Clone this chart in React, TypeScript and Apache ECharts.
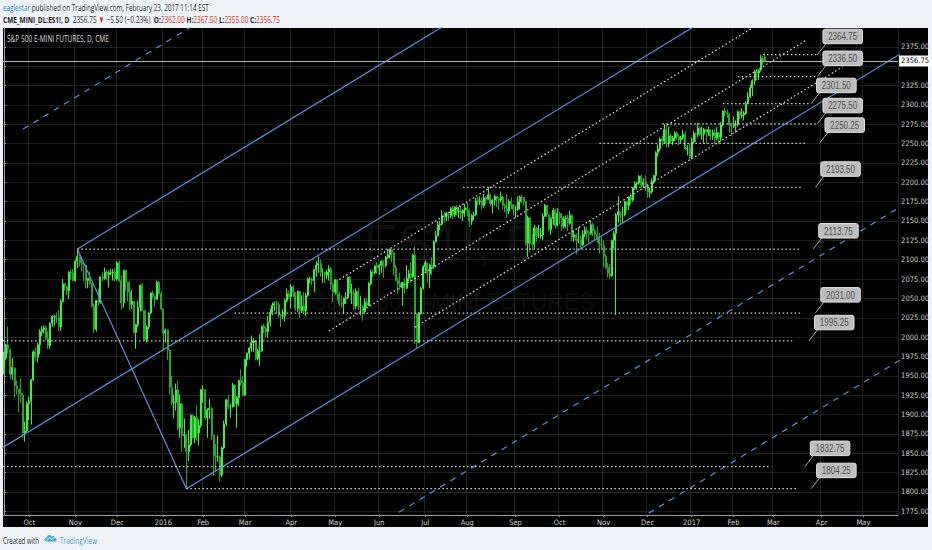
import React, { useEffect, useRef } from "react";
import * as echarts from "echarts";

const START_DATE = "2015-09-15";
const CATEGORY_COUNT = 427;
const HOLIDAYS = ["2015-11-26","2015-12-25","2016-01-01","2016-01-18","2016-02-15","2016-03-25","2016-05-30","2016-07-04","2016-09-05","2016-11-24","2016-12-26","2017-01-02","2017-01-16","2017-02-20"];
const MONTHS = ["Jan","Feb","Mar","Apr","May","Jun","Jul","Aug","Sep","Oct","Nov","Dec"];

// daily bars: [open, high, low, close]
const ohlc: number[][] = [
// 2015-09
[1955,1981,1952,1973],[1973,1991,1970,1990],[1990,2014,1979,1985],[1984,1985,1946,1952],[1952,1973,1945,1961],[1960,1961,1922,1937],[1937,1944,1926,1933],[1933,1933,1903,1927],[1927,1947,1915,1925],[1925,1928,1870,1876],[1876,1891,1865,1879],[1879,1917,1877,1914],
// 2015-10
[1914,1923,1893,1917],[1917,1946,1887,1945],[1945,1983,1943,1981],[1981,1987,1969,1974],[1974,1993,1967,1990],[1990,2010,1978,2007],[2007,2014,2001,2010],[2010,2015,2005,2012],[2012,2015,1996,1998],[1998,2007,1985,1989],[1989,2019,1985,2018],[2018,2028,2013,2027],[2027,2029,2015,2027],[2027,2032,2018,2025],[2025,2035,2008,2013],[2013,2049,2008,2046],[2046,2075,2045,2069],[2069,2070,2060,2065],[2065,2066,2054,2060],[2060,2085,2049,2084],[2084,2087,2074,2083],[2083,2088,2072,2073],
// 2015-11
[2073,2100,2072,2098],[2098,2113.75,2089,2104],[2104,2108,2091,2096],[2096,2102,2085,2094],[2094,2097,2072,2093],[2093,2093,2063,2073],[2073,2076,2063,2076],[2076,2085,2067,2069],[2069,2070,2038,2040],[2040,2043,2005,2010],[2010,2048,2007,2047],[2047,2063,2041,2045],[2045,2078,2043,2078],[2078,2084,2072,2076],[2076,2090,2074,2084],[2084,2087,2073,2081],[2081,2086,2064,2083],[2083,2088,2080,2083],[2083,2088,2073,2084],[2084,2089,2072,2075],
// 2015-12
[2075,2098,2073,2096],[2096,2099,2071,2073],[2073,2080,2036,2044],[2044,2087,2038,2086],[2086,2087,2060,2071],[2071,2071,2046,2058],[2058,2072,2035,2042],[2042,2061,2036,2046],[2046,2046,2005,2006],[2006,2017,1985,2016],[2016,2047,2013,2038],[2038,2068,2033,2067],[2067,2070,2034,2034],[2034,2035,1995,1997],[1997,2015,1993,2013],[2013,2032,2010,2031],[2031,2058,2030,2057],[2057,2060,2050,2053],[2053,2053,2040,2049],[2049,2073,2048,2071],[2071,2072,2055,2056],[2056,2059,2035,2036],
// 2016-01
[2036,2037,1983,2005],[2005,2011,1993,2009],[2009,2010,1970,1983],[1983,1984,1926,1935],[1935,1950,1912,1915],[1915,1925,1895,1916],[1916,1940,1905,1932],[1932,1944,1880,1883],[1883,1926,1870,1914],[1914,1915,1852,1873],[1873,1895,1857,1874],[1874,1875,1804.25,1852],[1852,1880,1840,1861],[1861,1900,1859,1899],[1899,1900,1869,1870],[1870,1898,1863,1896],[1896,1912,1866,1876],[1876,1894,1860,1886],[1886,1933,1883,1932],
// 2016-02
[1932,1938,1915,1932],[1932,1932,1893,1896],[1896,1908,1870,1906],[1906,1920,1894,1908],[1908,1910,1867,1873],[1873,1874,1821,1846],[1846,1862,1826,1845],[1845,1873,1839,1845],[1845,1847,1814,1822],[1822,1859,1819,1857],[1857,1892,1855,1888],[1888,1920,1885,1919],[1919,1926,1907,1910],[1910,1914,1896,1910],[1910,1941,1909,1938],[1938,1939,1910,1914],[1914,1924,1883,1922],[1922,1945,1911,1944],[1944,1958,1937,1941],[1941,1950,1923,1925],
// 2016-03
[1925,1972,1924,1971],[1971,1980,1962,1979],[1979,1987,1971,1986],[1986,2002,1981,1993],[1993,1999,1981,1995],[1995,1996,1970,1972],[1972,1985,1970,1982],[1982,2004,1963,1982],[1982,2015,1981,2014],[2014,2017,2005,2011],[2011,2014,2000,2007],[2007,2027,1999,2019],[2019,2037,2014,2032],[2032,2045,2028,2041],[2041,2046,2034,2043],[2043,2047,2030,2042],[2042,2045,2025,2028],[2028,2030,2013,2027],[2027,2036,2023,2028],[2028,2050,2020,2047],[2047,2063,2045,2056],[2056,2060,2049,2052],
// 2016-04
[2052,2068,2037,2065],[2065,2067,2052,2058],[2058,2058,2034,2037],[2037,2060,2032,2059],[2059,2059,2025,2034],[2034,2054,2031,2040],[2040,2058,2032,2034],[2034,2057,2027,2054],[2054,2077,2052,2075],[2075,2078,2069,2075],[2075,2077,2067,2073],[2073,2088,2058,2087],[2087,2098,2078,2093],[2093,2104,2083,2095],[2095,2100,2078,2084],[2084,2089,2070,2084],[2084,2084,2070,2080],[2080,2087,2075,2084],[2084,2093,2073,2088],[2088,2091,2061,2068],[2068,2070,2045,2058],
// 2016-05
[2058,2075,2055,2074],[2074,2074,2047,2056],[2056,2059,2040,2044],[2044,2054,2038,2043],[2043,2051,2030,2050],[2050,2058,2043,2051],[2051,2078,2049,2077],[2077,2079,2056,2057],[2057,2069,2043,2057],[2057,2061,2035,2040],[2040,2063,2036,2059],[2059,2064,2035,2040],[2040,2053,2028,2040],[2040,2042,2021,2033],[2033,2050,2030,2045],[2045,2051,2038,2041],[2041,2071,2040,2069],[2069,2087,2067,2084],[2084,2087,2078,2083],[2083,2093,2081,2092],[2092,2097,2082,2090],
// 2016-06
[2090,2094,2080,2093],[2093,2099,2083,2098],[2098,2099,2077,2092],[2092,2105,2090,2103],[2103,2113,2101,2106],[2106,2114,2102,2113],[2113,2113,2097,2109],[2109,2109,2080,2090],[2090,2093,2072,2073],[2073,2077,2056,2069],[2069,2083,2061,2065],[2065,2071,2040,2071],[2071,2076,2056,2063],[2063,2093,2062,2076],[2076,2087,2072,2082],[2082,2097,2070,2078],[2078,2108,2076,2106],[2106,2117,1991,2030],[2030,2031,1985,1993],[1993,2032,1992,2030],[2030,2065,2029,2063],[2063,2093,2061,2091],
// 2016-07
[2091,2099,2085,2096],[2096,2096,2070,2082],[2082,2095,2063,2093],[2093,2103,2080,2091],[2091,2125,2088,2123],[2123,2137,2122,2131],[2131,2150,2130,2145],[2145,2150,2138,2146],[2146,2164,2144,2157],[2157,2162,2148,2155],[2155,2162,2150,2160],[2160,2162,2150,2157],[2157,2168,2154,2166],[2166,2170,2152,2158],[2158,2169,2155,2168],[2168,2170,2157,2162],[2162,2168,2154,2163],[2163,2170,2152,2160],[2160,2165,2150,2164],[2164,2172,2155,2167],
// 2016-08
[2167,2174,2156,2164],[2164,2166,2142,2150],[2150,2159,2145,2157],[2157,2162,2151,2158],[2158,2180,2157,2176],[2176,2181,2170,2175],[2175,2182,2171,2176],[2176,2180,2165,2170],[2170,2185,2167,2180],[2180,2182,2172,2178],[2178,2193.5,2177,2184],[2184,2185,2169,2172],[2172,2178,2160,2177],[2177,2184,2170,2182],[2182,2182,2168,2178],[2178,2181,2164,2177],[2177,2188,2174,2181],[2181,2183,2165,2170],[2170,2173,2161,2167],[2167,2185,2154,2163],[2163,2178,2159,2175],[2175,2180,2165,2171],[2171,2172,2157,2165],
// 2016-09
[2165,2170,2154,2165],[2165,2182,2163,2175],[2175,2183,2165,2181],[2181,2184,2173,2180],[2180,2181,2170,2175],[2175,2175,2118,2121],[2121,2157,2104,2154],[2154,2155,2110,2121],[2121,2133,2112,2120],[2120,2145,2114,2141],[2141,2142,2123,2131],[2131,2145,2128,2131],[2131,2141,2127,2132],[2132,2160,2125,2156],[2156,2172,2155,2170],[2170,2171,2155,2158],[2158,2158,2137,2139],[2139,2155,2132,2153],[2153,2167,2145,2164],[2164,2166,2140,2144],[2144,2167,2143,2160],
// 2016-10
[2160,2162,2146,2154],[2154,2160,2137,2143],[2143,2156,2140,2153],[2153,2157,2141,2154],[2154,2158,2137,2147],[2147,2163,2145,2157],[2157,2159,2124,2129],[2129,2138,2123,2132],[2132,2134,2107,2125],[2125,2142,2121,2126],[2126,2131,2115,2119],[2119,2138,2118,2133],[2133,2143,2129,2138],[2138,2143,2126,2135],[2135,2137,2122,2134],[2134,2150,2132,2145],[2145,2148,2130,2137],[2137,2140,2124,2133],[2133,2143,2122,2127],[2127,2135,2108,2120],[2120,2130,2114,2119],
// 2016-11
[2119,2125,2090,2104],[2104,2107,2088,2090],[2090,2096,2077,2082],[2082,2094,2075,2079],[2079,2126,2078,2125],[2125,2137,2115,2134],[2134,2160,2028.75,2158],[2158,2182,2148,2162],[2162,2162,2146,2158],[2158,2168,2148,2158],[2158,2176,2156,2175],[2175,2175,2163,2170],[2170,2182,2164,2181],[2181,2186,2172,2177],[2177,2193,2175,2193],[2193,2201,2190,2198],[2198,2201,2190,2199],[2199,2209,2197,2208],[2208,2210,2193,2196],[2196,2205,2193,2200],[2200,2209,2189,2194],
// 2016-12
[2194,2198,2180,2187],[2187,2193,2180,2188],[2188,2205,2185,2201],[2201,2210,2198,2209],[2209,2240,2202,2238],[2238,2249,2233,2243],[2243,2258,2240,2256],[2256,2260,2248,2253],[2253,2275,2250,2268],[2268,2274,2245,2250],[2250,2272,2245,2260],[2260,2263,2250,2253],[2253,2260,2248,2257],[2257,2266,2253,2264],[2264,2265,2255,2259],[2259,2262,2248,2255],[2255,2260,2251,2257],[2257,2268,2255,2262],[2262,2266,2241,2243],[2243,2248,2235,2244],[2244,2250,2228,2233],
// 2017-01
[2233,2258,2230,2252],[2252,2266,2250,2263],[2263,2264,2252,2262],[2262,2277,2258,2270],[2270,2272,2260,2262],[2262,2272,2255,2262],[2262,2270,2250,2268],[2268,2269,2250,2265],[2265,2272,2260,2268],[2268,2268,2254,2260],[2260,2268,2255,2264],[2264,2269,2250,2257],[2257,2271,2254,2264],[2264,2265,2249,2258],[2258,2278,2253,2274],[2274,2293,2272,2292],[2292,2296,2285,2290],[2290,2294,2283,2288],[2288,2289,2264,2274],[2274,2276,2260,2273],
// 2017-02
[2273,2285,2270,2274],[2274,2280,2264,2275],[2275,2293,2272,2291],[2291,2292,2281,2286],[2286,2296,2283,2287],[2287,2292,2280,2289],[2289,2305,2287,2302],[2302,2316,2301,2310],[2310,2326,2309,2322],[2322,2333,2311,2331],[2331,2345,2326,2343],[2343,2347,2332,2341],[2341,2346,2332,2345],[2345,2364.75,2343,2360],[2360,2363,2352,2357],[2362,2367.5,2355,2356.75],
];

const LAST_PRICE = 2356.75;
const Y_MIN = 1770.25;
const Y_MAX = 2399.25;
const yTicks = [1775,1800,1825,1850,1875,1900,1925,1950,1975,2000,2025,2050,2075,2100,2125,2150,2175,2200,2225,2250,2275,2300,2325,2350,2375];
// 2350.00 sits under the last-price tag, as in the source
const yLabels = yTicks.filter((v) => v !== 2350);

// horizontal support / resistance levels (x in bar index)
const levelPrices = [2364.75, 2336.5, 2301.5, 2275.5, 2250.25, 2193.5, 2113.75, 2031, 1995.25, 1832.75, 1804.25];
const levelFrom = [362, 350, 343, 314, 284, 219, 35, 110, -0.5, -0.5, 87];
const levelTo = [388, 388, 385, 388, 382, 381, 380, 380, 376, 366, 378];
const calloutAt = [388, 388, 385, 388, 389, 387, 386, 387, 384, 382, 385];

// pitchfork anchors [bar index, price]
const forkStart = [-0.5, 1857.6];
const forkHigh = [35, 2113.75];
const forkLow = [87, 1804.25];
// dotted parallel lines: offset from median, from/to bar index
const channelOffsets = [-47.8, -105.9, -168.8];
const channelFrom = [160, 155, 196];
const channelTo = [520, 383, 400];

const NARROW = "'Liberation Sans Narrow', 'DejaVu Sans Condensed', 'Arial Narrow', sans-serif";

function buildDates(): string[] {
  const out: string[] = [];
  const d = new Date(START_DATE + "T00:00:00Z");
  while (out.length < CATEGORY_COUNT) {
    const wd = d.getUTCDay();
    const s = d.toISOString().slice(0, 10);
    if (wd !== 0 && wd !== 6 && HOLIDAYS.indexOf(s) < 0) out.push(s);
    d.setUTCDate(d.getUTCDate() + 1);
  }
  return out;
}

const measureCtx = document.createElement("canvas").getContext("2d") as CanvasRenderingContext2D;
function textWidth(t: string, size: number, family: string, weight = "normal") {
  measureCtx.font = `${weight} ${size}px ${family}`;
  return measureCtx.measureText(t).width;
}
type Seg = { t: string; c: string; b?: boolean };
function lineEls(segs: Seg[], x: number, y: number, size: number, family: string, target: number) {
  const widths = segs.map((s) => textWidth(s.t, size, family, s.b ? "bold" : "normal"));
  const total = widths.reduce((a, b) => a + b, 0);
  const k = target / total;
  let cx = x;
  return segs.map((s, i) => {
    const el = {
      type: "text", x: cx, y, scaleX: k, silent: true, z: 20,
      style: { text: s.t, fill: s.c, fontSize: size, fontFamily: family, fontWeight: s.b ? "bold" : "normal", verticalAlign: "middle" },
    };
    cx += widths[i] * k;
    return el;
  });
}

echarts.graphic.registerShape(
  "tvlogo",
  echarts.graphic.extendPath("M3 10 C0 10 0 6 3 6 C3 2 8 1 9 4 C10 3 13 3 13 6 C15.5 6 15.5 10 13 10 Z", {}) as any
);

export default function App() {
  const ref = useRef<HTMLDivElement>(null);
  useEffect(() => {
    if (!ref.current) return;
    const chart = echarts.init(ref.current, undefined, { renderer: "svg" });
    const dates = buildDates();
    const isMonthStart = (i: number) => i > 0 && dates[i].slice(5, 7) !== dates[i - 1].slice(5, 7);
    const monthLabel = (v: string) => {
      const m = parseInt(v.slice(5, 7), 10);
      return m === 1 ? v.slice(0, 4) : MONTHS[m - 1];
    };

    const slope = ((forkHigh[1] + forkLow[1]) / 2 - forkStart[1]) / ((forkHigh[0] + forkLow[0]) / 2 - forkStart[0]);
    const median = (i: number) => forkStart[1] + (i - forkStart[0]) * slope;
    const upper = (i: number) => forkHigh[1] + (i - forkHigh[0]) * slope;
    const lower = (i: number) => forkLow[1] + (i - forkLow[0]) * slope;
    const width = upper(0) - median(0);

    const lineSeries = (pts: number[][], color: string, type: any, w: number) => ({
      type: "line", xAxisIndex: 1, yAxisIndex: 0, data: pts, symbol: "none", showSymbol: false,
      clip: true, silent: true, z: 3, lineStyle: { color, type, width: w }, animation: false,
    });
    const BLUE = "#5b8fdc";
    const DOT = "#d6d6d6";
    const series: any[] = [
      {
        type: "candlestick", xAxisIndex: 0, yAxisIndex: 0,
        data: ohlc.map(([o, h, l, c]) => [o, c, l, h]),
        barWidth: "72%",
        itemStyle: { color: "#3ef03e", color0: "#2aa52a", borderColor: "#3ef03e", borderColor0: "#2aa52a", borderWidth: 1 },
        markLine: {
          silent: true, symbol: "none", animation: false,
          lineStyle: { color: "#b4b4b4", type: "solid", width: 1 },
          label: { position: "end", formatter: LAST_PRICE.toFixed(2), backgroundColor: "#ffffff", color: "#000", fontSize: 7.5, fontFamily: NARROW, padding: [2, 2, 1, 2], distance: 1 },
          data: [{ yAxis: LAST_PRICE }],
        },
      },
      lineSeries([[forkHigh[0], forkHigh[1]], [forkHigh[0] + 300, upper(forkHigh[0] + 300)]], BLUE, "solid", 1.2),
      lineSeries([[forkStart[0] - 5, median(forkStart[0] - 5)], [450, median(450)]], BLUE, "solid", 1.2),
      lineSeries([[forkLow[0], forkLow[1]], [450, lower(450)]], BLUE, "solid", 1.2),
      lineSeries([[forkHigh[0], forkHigh[1]], [forkLow[0], forkLow[1]]], BLUE, "solid", 1.2),
      lineSeries([[9, upper(9) + width], [300, upper(300) + width]], BLUE, [6, 6], 1.2),
      lineSeries([[120, lower(120) - width], [450, lower(450) - width]], BLUE, [6, 6], 1.2),
      lineSeries([[200, lower(200) - 2 * width], [450, lower(450) - 2 * width]], BLUE, [6, 6], 1.2),
      lineSeries([[300, lower(300) - 3 * width], [450, lower(450) - 3 * width]], BLUE, [6, 6], 1.2),
    ];
    channelOffsets.forEach((off, k) => {
      series.push(lineSeries([[channelFrom[k], median(channelFrom[k]) + off], [channelTo[k], median(channelTo[k]) + off]], DOT, [1.5, 2.5], 1.3));
    });
    levelPrices.forEach((p, k) => {
      series.push(lineSeries([[levelFrom[k], p], [levelTo[k], p]], DOT, [1.5, 2.5], 1.3));
    });

    const gridLine = "#1f1f1f";
    const axisColor = "#9a9a9a";
    const labelColor = "#cfcfcf";
    chart.setOption({
      animation: false,
      backgroundColor: "transparent",
      grid: { left: 3, right: 29, top: 28, bottom: 35 },
      xAxis: [
        {
          type: "category", data: dates, boundaryGap: true, min: 0, max: CATEGORY_COUNT - 1,
          axisLine: { show: true, lineStyle: { color: axisColor } },
          axisTick: { show: true, interval: (i: number) => isMonthStart(i), alignWithLabel: true, length: 2, lineStyle: { color: axisColor } },
          axisLabel: { interval: (i: number) => isMonthStart(i), formatter: monthLabel, color: labelColor, fontSize: 7.5, fontFamily: NARROW, margin: 3 },
          splitLine: { show: true, interval: (i: number) => isMonthStart(i), lineStyle: { color: gridLine, width: 1 } },
        },
        { type: "value", min: -0.5, max: CATEGORY_COUNT - 0.5, show: false },
      ],
      yAxis: {
        type: "value", position: "right", min: Y_MIN, max: Y_MAX,
        axisLine: { show: true, lineStyle: { color: axisColor } },
        axisTick: { show: true, customValues: yTicks, length: 2, lineStyle: { color: axisColor } },
        axisLabel: { customValues: yLabels, formatter: (v: number) => v.toFixed(2), color: labelColor, fontSize: 7.5, fontFamily: NARROW, margin: 3 },
        splitLine: { show: true, lineStyle: { color: gridLine, width: 1 } },
      },
      series,
    } as any);

    const px = (i: number) => chart.convertToPixel({ xAxisIndex: 1 } as any, i) as unknown as number;
    const py = (p: number) => chart.convertToPixel({ yAxisIndex: 0 } as any, p) as unknown as number;

    const g: any[] = [];
    g.push({ type: "text", x: 453, y: 243, z: -1, silent: true, style: { text: "ES1!, D", fill: "#0e0e0e", fontSize: 52, fontFamily: "Liberation Sans", align: "center", verticalAlign: "middle" } });
    g.push({ type: "text", x: 453, y: 302, z: -1, silent: true, style: { text: "S&P 500 E-MINI FUTURES", fill: "#0e0e0e", fontSize: 23, fontFamily: "Liberation Sans", align: "center", verticalAlign: "middle" } });
    g.push(...lineEls([{ t: "S&P 500 E-MINI FUTURES, D, CME", c: "#dcdcdc" }], 7, 38.5, 9, "'Open Sans'", 102));
    levelPrices.forEach((p, k) => {
      const tx = px(calloutAt[k]);
      const ty = py(p);
      const bx = tx + 5.5;
      const bh = 14.5;
      const by = Math.max(28.5, ty - 11 - bh);
      const bw = 39.5;
      g.push({ type: "line", silent: true, z: 15, shape: { x1: bx + 3, y1: by + bh, x2: tx, y2: ty }, style: { stroke: "#a8a8a8", lineWidth: 1 } });
      g.push({ type: "rect", silent: true, z: 16, shape: { x: bx, y: by, width: bw, height: bh, r: 2 }, style: { fill: "#bdbdbd", stroke: "#e2e2e2", lineWidth: 1 } });
      const label = p.toFixed(2);
      const natural = textWidth(label, 10.5, "'Liberation Sans'");
      const k2 = 29 / natural;
      g.push({ type: "text", silent: true, z: 17, x: bx + bw / 2 - 14.5, y: by + bh / 2 + 0.5, scaleX: k2, style: { text: label, fill: "#505050", fontSize: 10.5, fontFamily: "'Liberation Sans'", verticalAlign: "middle" } });
    });
    g.push(...lineEls([
      { t: "eaglestar", c: "#2d8ad8" },
      { t: " published on TradingView.com, February 23, 2017 11:14 EST", c: "#333333" },
    ], 3, 6.8, 9.5, "'Open Sans'", 206));
    g.push(...lineEls([
      { t: "CME_MINI_DL:ES1!, D", c: "#1e1e1e", b: true },
      { t: "  2356.75 ", c: "#333333" },
      { t: "\u25BC", c: "#e8292b" },
      { t: " \u22125.50 (\u22120.23%)  ", c: "#333333" },
      { t: "O:", c: "#1e1e1e", b: true },
      { t: "2362.00", c: "#d9302c" },
      { t: " H:", c: "#1e1e1e", b: true },
      { t: "2367.50", c: "#d9302c" },
      { t: " L:", c: "#1e1e1e", b: true },
      { t: "2355.00", c: "#d9302c" },
      { t: " C:", c: "#1e1e1e", b: true },
      { t: "2356.75", c: "#d9302c" },
    ], 3, 18.5, 9.5, "'Open Sans'", 277));
    g.push(...lineEls([{ t: "Created with", c: "#333333" }], 3, 539.5, 9.5, "'Open Sans'", 36));
    g.push({ type: "tvlogo", x: 44, y: 533, scaleX: 0.85, scaleY: 0.85, silent: true, style: { fill: "#4ba3d9" } });
    g.push({ type: "polyline", silent: true, z: 21, shape: { points: [[46.5, 540.5], [49.5, 537.5], [52, 539.5], [55, 536.5]] }, style: { stroke: "#ffffff", lineWidth: 1, fill: "none" } });
    g.push(...lineEls([{ t: "TradingView", c: "#48a8dc" }], 60, 539.5, 9.5, "'Open Sans'", 37));

    chart.setOption({ graphic: g } as any);
    return () => chart.dispose();
  }, []);

  return (
    <div style={{ position: "fixed", left: 0, top: 0, width: 932, height: 550, background: "#eff2f6", overflow: "hidden" }}>
      <div style={{ position: "absolute", left: 3, top: 28, width: 925, height: 499, background: "#000" }} />
      <div ref={ref} style={{ position: "absolute", left: 0, top: 0, width: 932, height: 550 }} />
    </div>
  );
}
